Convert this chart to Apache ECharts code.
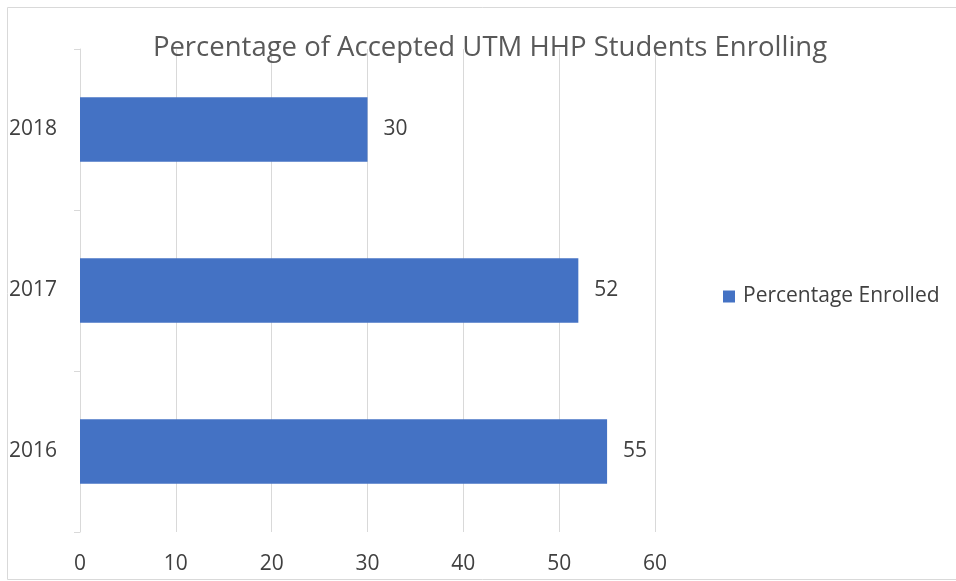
<!DOCTYPE html>
<html>
<head>
<meta charset="utf-8">
<script src="https://cdn.jsdelivr.net/npm/echarts@6/dist/echarts.min.js"></script>
<style>
html, body { margin: 0; padding: 0; background: #fff; }
#main { width: 956px; height: 581px; }
</style>
</head>
<body>
<div id="main"></div>
<script>
var years = ['2016', '2017', '2018'];
var enrolled = [55, 52, 30];
var seriesName = 'Percentage Enrolled';
var titleText = 'Percentage of Accepted UTM HHP Students Enrolling';

var myChart = echarts.init(document.getElementById('main'));
var font = '"Open Sans", sans-serif';

var option = {
    animation: false,
    textStyle: { fontFamily: font },
    title: {
        text: titleText,
        left: 485,
        textAlign: 'center',
        top: 29,
        textStyle: { color: '#595959', fontSize: 27.5, fontWeight: 'normal', fontFamily: font }
    },
    graphic: [{
        type: 'rect',
        shape: { x: 7.5, y: 7.5, width: 960, height: 572 },
        style: { fill: 'none', stroke: '#d9d9d9', lineWidth: 1 },
        silent: true
    }],
    legend: {
        left: 718,
        top: 281,
        itemWidth: 12,
        itemHeight: 12,
        itemGap: 10,
        icon: 'rect',
        textStyle: { color: '#404040', fontSize: 21, fontFamily: font, padding: [0, 0, 0, 3] },
        data: [seriesName]
    },
    grid: { left: 80, right: 301, top: 49, bottom: 49 },
    xAxis: {
        type: 'value',
        min: 0,
        max: 60,
        interval: 10,
        axisLine: { show: false },
        axisTick: { show: false },
        axisLabel: { color: '#404040', fontSize: 21, margin: 22 },
        splitLine: { show: true, lineStyle: { color: '#d9d9d9', width: 1 } }
    },
    yAxis: {
        type: 'category',
        data: years,
        axisLine: { show: true, lineStyle: { color: '#d9d9d9' } },
        axisTick: { show: true, length: 6, lineStyle: { color: '#d9d9d9' } },
        axisLabel: { color: '#404040', fontSize: 21, margin: 23 }
    },
    series: [{
        name: seriesName,
        type: 'bar',
        data: enrolled,
        barWidth: '40%',
        itemStyle: { color: '#4472c4' },
        label: {
            show: true,
            position: 'right',
            distance: 16,
            color: '#404040',
            fontSize: 21
        }
    }]
};

myChart.setOption(option);
</script>
</body>
</html>
